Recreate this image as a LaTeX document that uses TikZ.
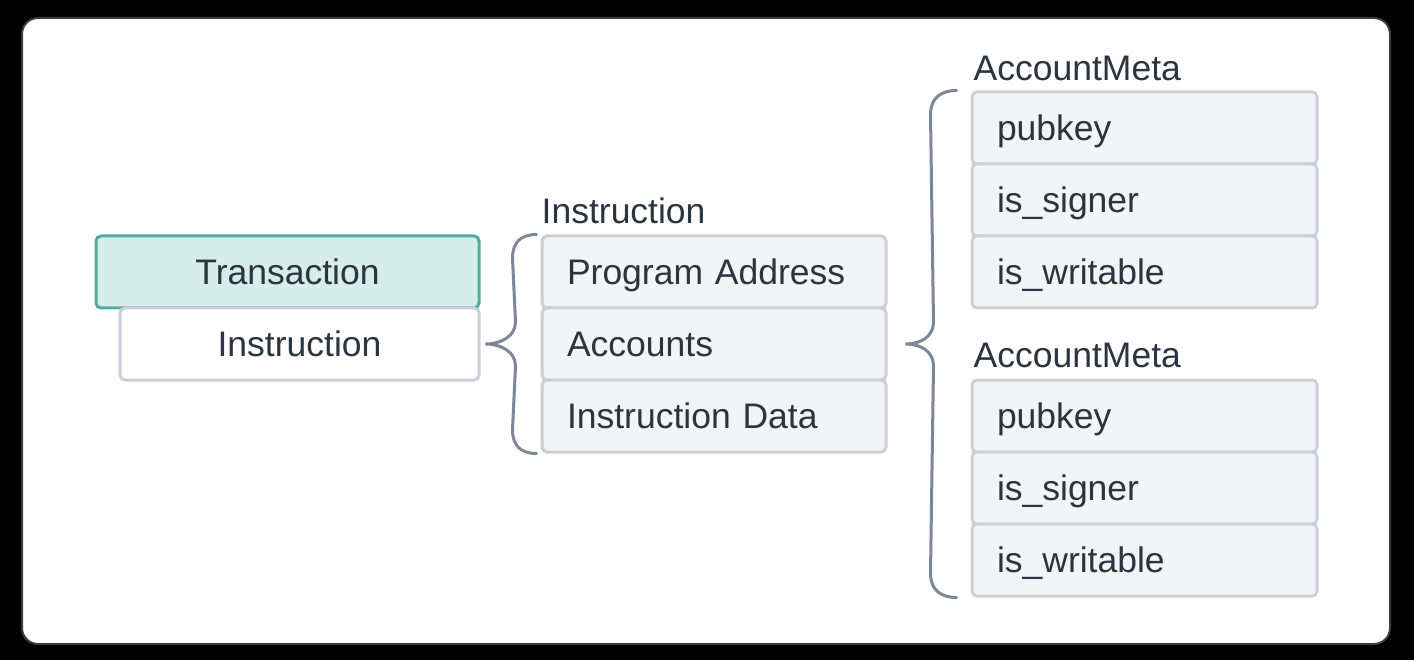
\documentclass[tikz,border=0pt]{standalone}
\usepackage{fontspec}
\setmainfont{Liberation Sans}
\usetikzlibrary{calc}
\definecolor{txt}{HTML}{2B3441}
\definecolor{cellborder}{HTML}{C8D1D9}
\definecolor{cellfill}{HTML}{F3F4F6}
\definecolor{txfill}{HTML}{D7EDEA}
\definecolor{txborder}{HTML}{52AC9B}
\definecolor{bracecol}{HTML}{7D8896}
\definecolor{panelborder}{HTML}{3C3C3C}
\tikzset{
  base/.style={font=\fontsize{35.5pt}{42pt}\selectfont, text=txt, line width=3pt, rounded corners=5pt, minimum height=72pt, inner sep=0pt, text height=25pt, text depth=0pt},
  cell/.style={base, draw=cellborder, fill=cellfill, minimum width=#1, text width=#1-50pt, align=left},
  txbox/.style={base, draw=txborder, fill=txfill, minimum width=383pt},
  insbox/.style={base, draw=cellborder, fill=white, minimum width=359pt},
  grouplabel/.style={font=\fontsize{35.5pt}{42pt}\selectfont, text=txt, inner sep=0pt, anchor=base west},
  brace/.style={draw=bracecol, line width=3pt, line cap=round}
}
\begin{document}
\begin{tikzpicture}[x=1pt,y=-1pt]
\fill[black] (0,0) rectangle (1414,660);
\useasboundingbox (0,0) rectangle (1414,660);
\draw[fill=white, draw=panelborder, line width=2pt, rounded corners=16pt] (22,18) rectangle (1390,644);

% left column
\node[txbox] (tx) at (287.5,272) {Transaction};
\node[insbox] (instr) at (299.5,344) {Instruction};

% instruction group
\node[cell=344pt] (pa) at (714,272) {Program Address};
\node[cell=344pt] (acc) at (714,344) {Accounts};
\node[cell=344pt] (idata) at (714,416) {Instruction Data};
\node[grouplabel] (instrlabel) at ($(pa.north west)+(1,-11)$) {Instruction};

% account meta groups
\node[cell=345pt] (m1) at (1144.5,128) {pubkey};
\node[cell=345pt] (m2) at (1144.5,200) {is\_signer};
\node[cell=345pt] (m3) at (1144.5,272) {is\_writable};
\node[grouplabel] (am1) at ($(m1.north west)+(3,-10)$) {AccountMeta};

\node[cell=345pt] (n1) at (1144.5,416) {pubkey};
\node[cell=345pt] (n2) at (1144.5,488) {is\_signer};
\node[cell=345pt] (n3) at (1144.5,560) {is\_writable};
\node[grouplabel] (am2) at ($(n1.north west)+(3,-11)$) {AccountMeta};

% brace 1
\coordinate (b1top) at ($(pa.north west)+(-4,0)$);
\coordinate (b1tip) at ($(instr.east)+(5,0)$);
\coordinate (b1bot) at ($(idata.south west)+(-4,0)$);
\draw[brace] (b1top) .. controls +(-16,0) and +(0,-16) .. ($(b1top)+(-24,24)$)
  -- ($(b1tip)+(30,-22)$) .. controls +(0,14) and +(16,0) .. (b1tip)
  .. controls +(16,0) and +(0,-14) .. ($(b1tip)+(30,22)$)
  -- ($(b1bot)+(-24,-24)$) .. controls +(0,16) and +(-16,0) .. (b1bot);

% brace 2
\coordinate (b2top) at ($(m1.north west)+(-14,0)$);
\coordinate (b2tip) at ($(acc.east)+(18,0)$);
\coordinate (b2bot) at ($(n3.south west)+(-14,0)$);
\draw[brace] (b2top) .. controls +(-16,0) and +(0,-16) .. ($(b2top)+(-26,24)$)
  -- ($(b2tip)+(28,-22)$) .. controls +(0,14) and +(16,0) .. (b2tip)
  .. controls +(16,0) and +(0,-14) .. ($(b2tip)+(28,22)$)
  -- ($(b2bot)+(-26,-24)$) .. controls +(0,16) and +(-16,0) .. (b2bot);
\end{tikzpicture}
\end{document}
